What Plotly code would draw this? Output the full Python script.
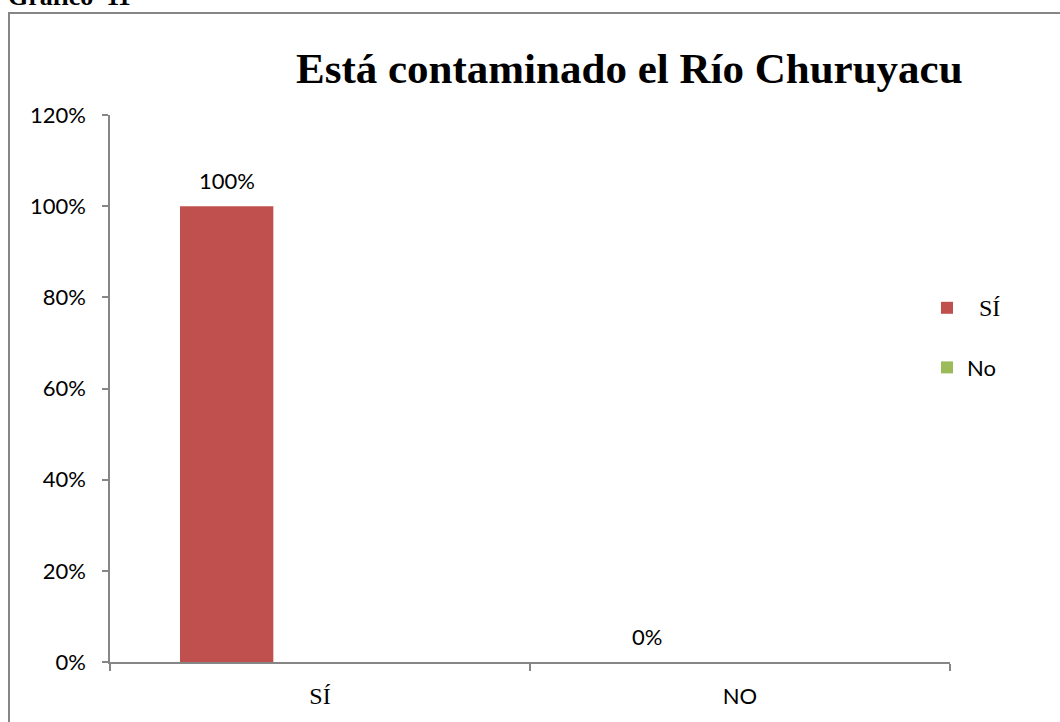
import plotly.graph_objects as go

categories = ["SÍ", "NO"]
SERIF_SPAN = '<span style="font-family:Times New Roman,Liberation Serif,serif;font-size:24px">%s</span>'
tick_labels = [SERIF_SPAN % "SÍ", "NO"]
series_names = ["SÍ", "No", ""]
series_values = [[1.0, 0.0], [None, None], [None, None]]
series_labels = [["100%", "0%"], ["", ""], ["", ""]]
colors = ["#C0504D", "#9BBB59", "#8064A2"]
title_text = "Está contaminado el Río Churuyacu"
caption_text = "Gráfico  11"

W, H = 1060, 722
L, R, T, B = 110, 110, 115, 60
pw, ph = W - L - R, H - T - B
FS = 22

def px_x(p):
    return (p - L) / pw

def px_y(p):
    return (H - B - p) / ph

fig = go.Figure()
bw = 1 / 4.5
annotations = []
for i, (name, vals, labs, col) in enumerate(zip(series_names, series_values, series_labels, colors)):
    legend_name = name
    if name == "SÍ":
        legend_name = SERIF_SPAN % ("\u00a0\u00a0" + name)
    off = -0.5 + 0.75 * bw + i * bw
    fig.add_trace(go.Bar(
        x=categories, y=vals, name=legend_name,
        width=bw, offset=off,
        marker=dict(color=col, line=dict(width=0)),
        showlegend=(name != ""), legendgroup="g%d" % i,
    ))
    for j, (v, lab) in enumerate(zip(vals, labs)):
        if v is None or not lab:
            continue
        annotations.append(dict(
            text=lab, x=j + off + bw / 2, y=v, xref="x", yref="y",
            yshift=26, showarrow=False, xanchor="center", yanchor="middle",
            font=dict(family="Lato", size=FS, color="#000000"),
        ))

annotations += [
    dict(text="<b>" + title_text + "</b>", xref="paper", yref="paper",
         x=px_x(629), y=px_y(68), xanchor="center", yanchor="middle",
         showarrow=False, font=dict(family="Liberation Serif", size=43, color="#000000")),
    dict(text="<b>" + caption_text + "</b>", xref="paper", yref="paper",
         x=px_x(6), y=px_y(13), xanchor="left", yanchor="bottom",
         showarrow=False, font=dict(family="Liberation Serif", size=26, color="#000000")),
]

fig.update_layout(
    width=W, height=H,
    margin=dict(l=L, r=R, t=T, b=B),
    paper_bgcolor="white", plot_bgcolor="white",
    barmode="overlay",
    font=dict(family="Lato", size=FS, color="#000000"),
    showlegend=True,
    legend=dict(
        x=px_x(927), y=px_y(287), xanchor="left", yanchor="top",
        font=dict(family="Lato", size=FS, color="#000000"),
        itemwidth=30, tracegroupgap=28, bgcolor="rgba(0,0,0,0)",
        traceorder="grouped",
    ),
    xaxis=dict(
        showline=True, linecolor="#868686", linewidth=1.5,
        ticks="outside", ticklen=7, tickcolor="#868686", tickwidth=1.5,
        tickson="boundaries", tickmode="array",
        tickvals=categories, ticktext=tick_labels, ticklabelstandoff=14,
        tickfont=dict(family="Lato", size=FS, color="#000000"),
        showgrid=False, zeroline=False, fixedrange=True,
    ),
    yaxis=dict(
        range=[0, 1.2], tickvals=[0, 0.2, 0.4, 0.6, 0.8, 1.0, 1.2],
        tickformat=".0%", showline=True, linecolor="#868686", linewidth=1.5,
        ticks="outside", ticklen=6, tickcolor="#868686", tickwidth=1.5,
        ticklabelstandoff=12,
        showgrid=False, zeroline=False,
        tickfont=dict(family="Lato", size=FS, color="#000000"),
    ),
    shapes=[dict(
        type="rect", xref="paper", yref="paper",
        x0=px_x(9), x1=px_x(1080), y0=px_y(740), y1=px_y(13),
        line=dict(color="#868686", width=2), fillcolor="rgba(0,0,0,0)", layer="below",
    )],
    annotations=annotations,
)

fig.write_html("out.html")
